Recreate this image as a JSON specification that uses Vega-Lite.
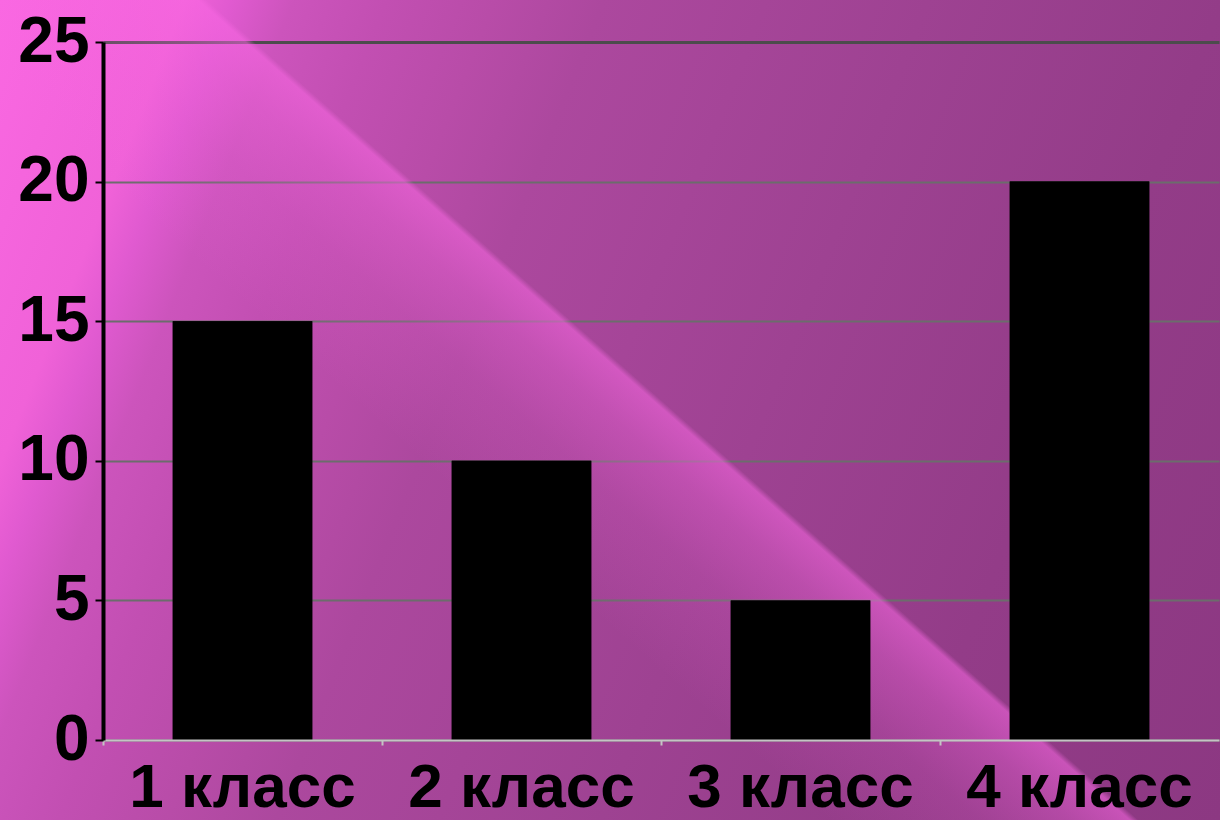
{
  "$schema": "https://vega.github.io/schema/vega-lite/v6.json",
  "width": 1220,
  "height": 820,
  "padding": 0,
  "autosize": {"type": "none"},
  "background": "#b04aa4",
  "view": {
    "stroke": null,
    "fill": {
      "gradient": "linear", "x1": 0, "y1": 0, "x2": 1.183, "y2": 0.318,
      "stops": [
        {"offset": 0, "color": "#fa68e2"},
        {"offset": 0.12, "color": "#f062d8"},
        {"offset": 0.15, "color": "#e05ad0"},
        {"offset": 0.19, "color": "#cc54bc"},
        {"offset": 0.25, "color": "#c24fb2"},
        {"offset": 0.32, "color": "#b84ca8"},
        {"offset": 0.39, "color": "#ac489e"},
        {"offset": 0.6, "color": "#9e4292"},
        {"offset": 0.79, "color": "#933c88"},
        {"offset": 1, "color": "#8c3882"}
      ]
    }
  },
  "config": {"font": "Liberation Sans"},
  "data": {
    "values": [
      {"class": "1 класс", "value": 15},
      {"class": "2 класс", "value": 10},
      {"class": "3 класс", "value": 5},
      {"class": "4 класс", "value": 20}
    ]
  },
  "layer": [
    {
      "data": {"values": [{"layer": "glow"}]},
      "mark": {
        "type": "rect",
        "fill": {
          "gradient": "linear", "x1": 0, "y1": 1, "x2": 1.114, "y2": 0.149,
          "stops": [
            {"offset": 0, "color": "rgba(250,104,228,0)"},
            {"offset": 0.385, "color": "rgba(250,104,228,0)"},
            {"offset": 0.455, "color": "rgba(250,104,228,0.15)"},
            {"offset": 0.497, "color": "rgba(250,104,228,0.34)"},
            {"offset": 0.52, "color": "rgba(250,104,228,0.5)"},
            {"offset": 0.525, "color": "rgba(250,104,228,0.54)"},
            {"offset": 0.529, "color": "rgba(250,104,228,0)"},
            {"offset": 1, "color": "rgba(250,104,228,0)"}
          ]
        }
      },
      "encoding": {}
    },
    {
      "mark": {"type": "bar", "color": "#000000"},
      "encoding": {
        "x": {
          "field": "class", "type": "nominal", "sort": null,
          "scale": {"range": [103, 1219], "paddingInner": 0.5, "paddingOuter": 0.25},
          "axis": null
        },
        "y": {
          "field": "value", "type": "quantitative",
          "scale": {"domain": [0, 25], "range": [740, 42], "nice": false},
          "axis": {
            "orient": "left",
            "values": [0, 5, 10, 15, 20, 25],
            "grid": true,
            "gridColor": {"condition": {"test": "datum.value === 25", "value": "#4c4c4c"}, "value": "#6c6c6c"},
            "gridWidth": {"condition": {"test": "datum.value === 25", "value": 3}, "value": 2},
            "domain": false, "ticks": false, "labels": false, "title": null,
            "offset": -103, "zindex": 0
          }
        }
      }
    },
    {
      "mark": {"type": "bar", "color": "#000000"},
      "encoding": {
        "x": {
          "field": "class", "type": "nominal", "sort": null,
          "axis": {
            "orient": "bottom", "offset": -80, "title": null,
            "labelAngle": 0, "labelFontSize": 62, "labelFontWeight": "bold",
            "labelColor": "#000000", "labelPadding": 12, "labelLimit": 500, "labelOverlap": false,
            "domainColor": "#c4c4c4", "domainWidth": 2,
            "tickColor": "#c4c4c4", "tickWidth": 2, "tickSize": 5, "bandPosition": -0.5,
            "zindex": 1
          }
        },
        "y": {
          "field": "value", "type": "quantitative",
          "axis": {
            "orient": "left",
            "values": [0, 5, 10, 15, 20, 25],
            "grid": false, "offset": -103, "title": null,
            "domainColor": "#000000", "domainWidth": 4,
            "tickColor": "#000000", "tickWidth": 2, "tickSize": 8,
            "labelFontSize": 64, "labelFontWeight": "bold", "labelColor": "#000000",
            "labelPadding": 6, "zindex": 1
          }
        }
      }
    }
  ],
  "resolve": {"axis": {"x": "independent", "y": "independent"}}
}
